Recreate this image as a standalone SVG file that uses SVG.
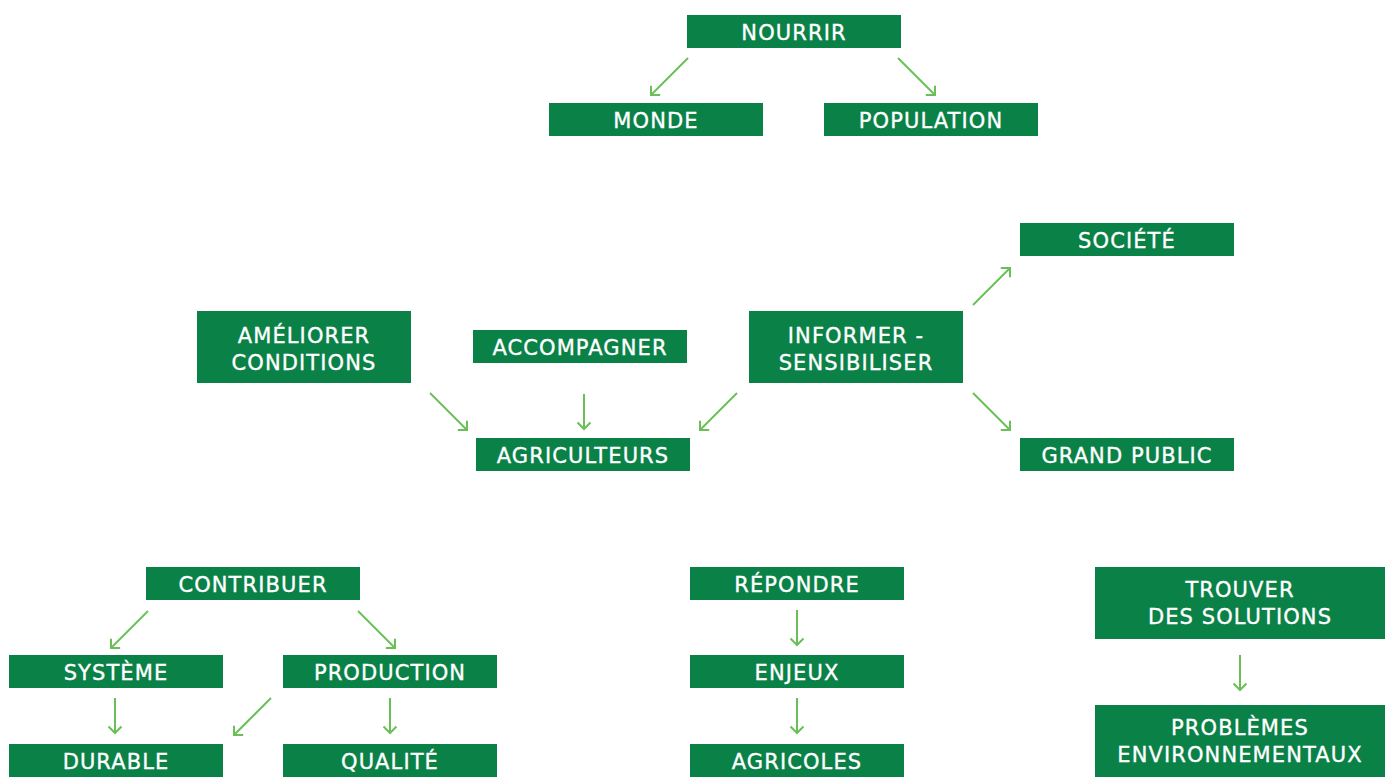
<svg xmlns="http://www.w3.org/2000/svg" width="1393" height="781" viewBox="0 0 1393 781">
<defs>
<style>
.box{fill:#0a8147}
.t{fill:#ffffff;stroke:#ffffff;stroke-width:0.35px;font-family:"DejaVu Sans","Liberation Sans",sans-serif;font-size:21px;letter-spacing:1.1px;text-anchor:middle}
.c{stroke:#6abf59;stroke-width:2;fill:none;marker-end:url(#ah)}
</style>
<marker id="ah" markerUnits="userSpaceOnUse" markerWidth="20" markerHeight="20" refX="0" refY="0" orient="auto" overflow="visible">
<path d="M-6.5,-6.5 L0,0 L-6.5,6.5" fill="none" stroke="#6abf59" stroke-width="2"/>
</marker>
</defs>
<rect width="1393" height="781" fill="#ffffff"/>
<g id="connectors">
<line class="c" x1="688" y1="58" x2="651" y2="95"/>
<line class="c" x1="898" y1="58" x2="935" y2="95"/>
<line class="c" x1="430" y1="393" x2="467" y2="430"/>
<line class="c" x1="584" y1="394" x2="584" y2="429"/>
<line class="c" x1="737" y1="393" x2="700" y2="430"/>
<line class="c" x1="973" y1="305" x2="1010" y2="268"/>
<line class="c" x1="973" y1="393" x2="1010" y2="430"/>
<line class="c" x1="148" y1="611" x2="111" y2="648"/>
<line class="c" x1="358" y1="611" x2="395" y2="648"/>
<line class="c" x1="115" y1="698" x2="115" y2="733"/>
<line class="c" x1="271" y1="698" x2="234" y2="735"/>
<line class="c" x1="390" y1="698" x2="390" y2="733"/>
<line class="c" x1="797" y1="610" x2="797" y2="645"/>
<line class="c" x1="797" y1="698" x2="797" y2="733"/>
<line class="c" x1="1240" y1="655" x2="1240" y2="690"/>
</g>
<g id="nourrir"><rect class="box" x="687" y="15" width="214" height="33"/><text class="t" x="794" y="39.5">NOURRIR</text></g>
<g id="monde"><rect class="box" x="549" y="103" width="214" height="33"/><text class="t" x="656" y="127.5">MONDE</text></g>
<g id="population"><rect class="box" x="824" y="103" width="214" height="33"/><text class="t" x="931" y="127.5">POPULATION</text></g>
<g id="societe"><rect class="box" x="1020" y="223" width="214" height="33"/><text class="t" x="1127" y="247.5">SOCIÉTÉ</text></g>
<g id="ameliorer"><rect class="box" x="197" y="311" width="214" height="72"/><text class="t" x="304" y="342.5">AMÉLIORER</text><text class="t" x="304" y="369.5">CONDITIONS</text></g>
<g id="accompagner"><rect class="box" x="473" y="330" width="214" height="33"/><text class="t" x="580" y="354.5">ACCOMPAGNER</text></g>
<g id="informer"><rect class="box" x="749" y="311" width="214" height="72"/><text class="t" x="856" y="342.5">INFORMER -</text><text class="t" x="856" y="369.5">SENSIBILISER</text></g>
<g id="agriculteurs"><rect class="box" x="476" y="438" width="214" height="33"/><text class="t" x="583" y="462.5">AGRICULTEURS</text></g>
<g id="grandpublic"><rect class="box" x="1020" y="438" width="214" height="33"/><text class="t" x="1127" y="462.5">GRAND PUBLIC</text></g>
<g id="contribuer"><rect class="box" x="146" y="567" width="214" height="33"/><text class="t" x="253" y="591.5">CONTRIBUER</text></g>
<g id="systeme"><rect class="box" x="9" y="655" width="214" height="33"/><text class="t" x="116" y="679.5">SYSTÈME</text></g>
<g id="production"><rect class="box" x="283" y="655" width="214" height="33"/><text class="t" x="390" y="679.5">PRODUCTION</text></g>
<g id="durable"><rect class="box" x="9" y="744" width="214" height="33"/><text class="t" x="116" y="768.5">DURABLE</text></g>
<g id="qualite"><rect class="box" x="283" y="744" width="214" height="33"/><text class="t" x="390" y="768.5">QUALITÉ</text></g>
<g id="repondre"><rect class="box" x="690" y="567" width="214" height="33"/><text class="t" x="797" y="591.5">RÉPONDRE</text></g>
<g id="enjeux"><rect class="box" x="690" y="655" width="214" height="33"/><text class="t" x="797" y="679.5">ENJEUX</text></g>
<g id="agricoles"><rect class="box" x="690" y="744" width="214" height="33"/><text class="t" x="797" y="768.5">AGRICOLES</text></g>
<g id="trouver"><rect class="box" x="1095" y="567" width="290" height="72"/><text class="t" x="1240" y="597">TROUVER</text><text class="t" x="1240" y="623.5">DES SOLUTIONS</text></g>
<g id="problemes"><rect class="box" x="1095" y="705" width="290" height="72"/><text class="t" x="1240" y="735">PROBLÈMES</text><text class="t" x="1240" y="762">ENVIRONNEMENTAUX</text></g>
</svg>
